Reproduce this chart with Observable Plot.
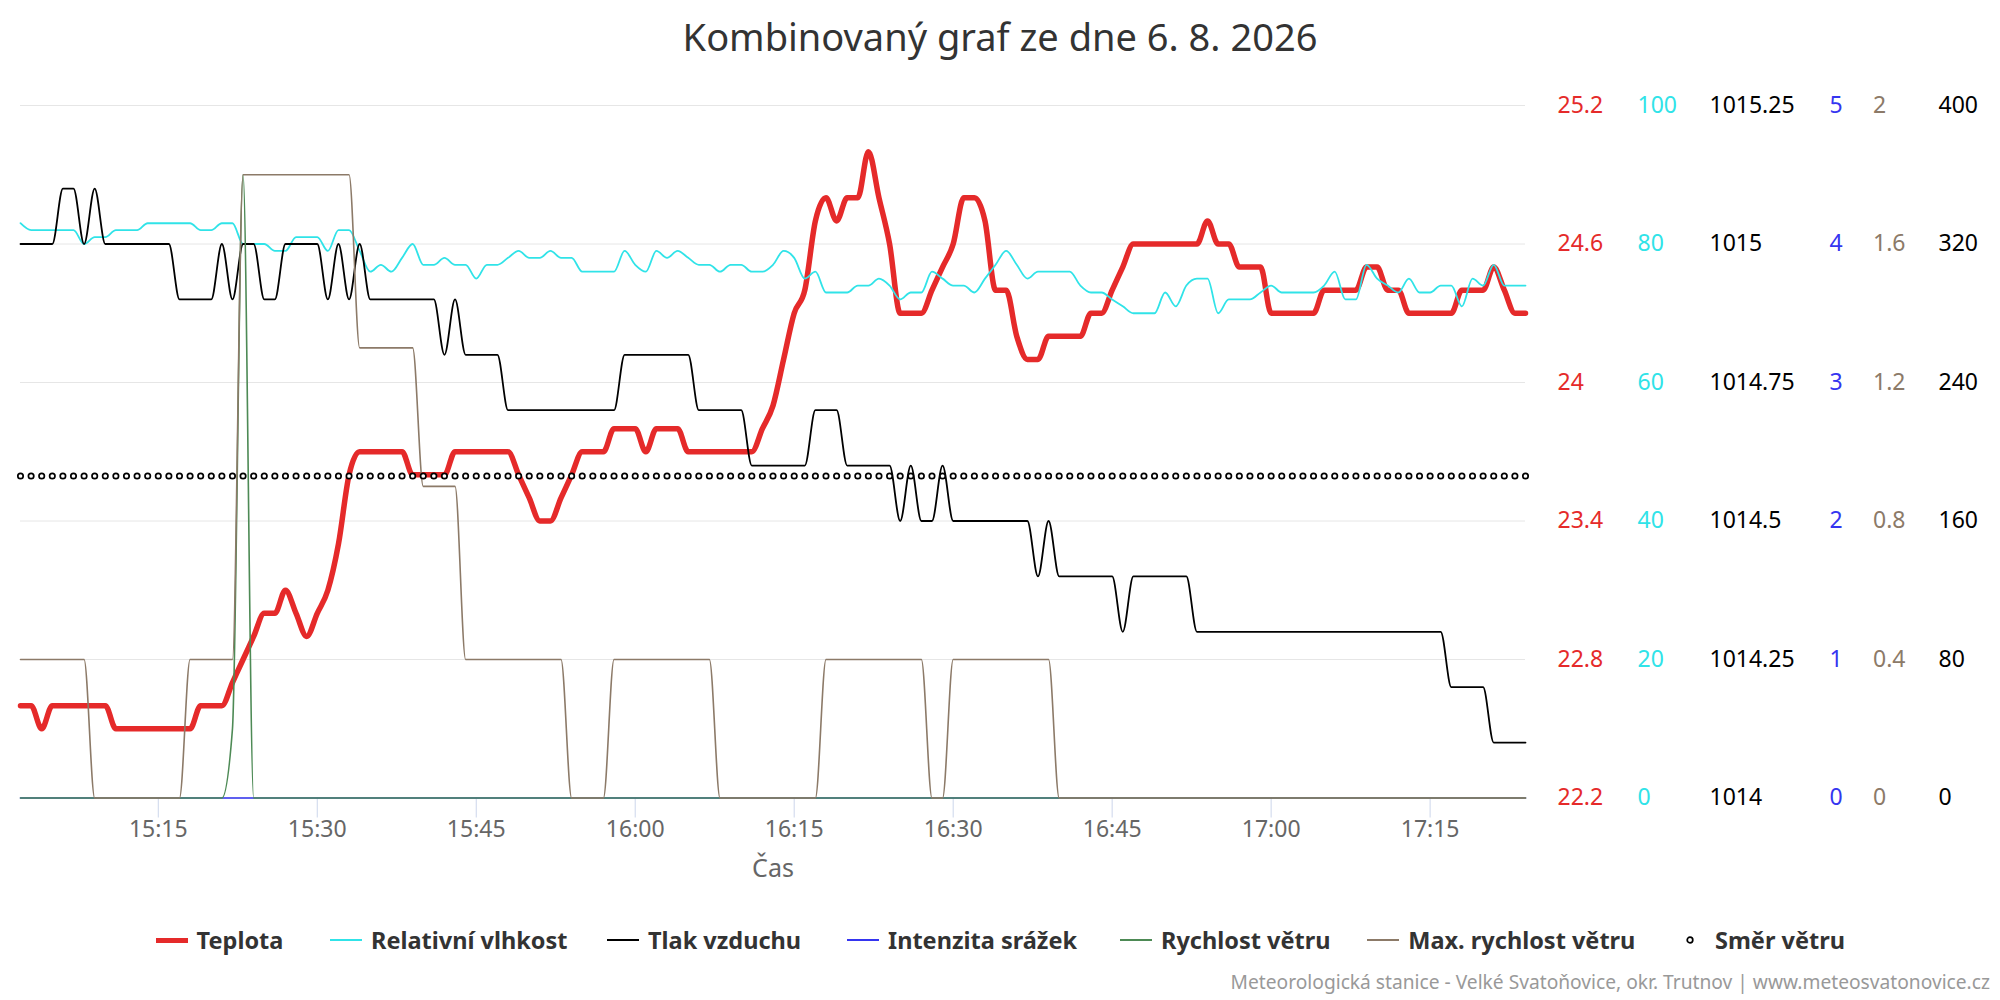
<!DOCTYPE html>
<html><head><meta charset="utf-8">
<script src="https://cdn.jsdelivr.net/npm/d3@7"></script>
<script src="https://cdn.jsdelivr.net/npm/@observablehq/plot@0.6"></script>
<style>
body{margin:0;background:#fff;font-family:"Noto Sans",sans-serif;}
#wrap{width:2000px;height:1000px;position:relative;overflow:hidden;background:#fff}
#title{height:72px;line-height:72px;text-align:center;font-size:38px;color:#333}
#chart svg{display:block}
#legend{position:relative;height:62px}
.item{position:absolute;top:38px;transform:translateY(-50%);display:flex;align-items:center;white-space:nowrap;font-weight:bold;font-size:23.5px;color:#333}
.sym{width:32px;margin-right:9px;display:flex;align-items:center;justify-content:center;height:20px}
#footer{height:36px;line-height:36px;text-align:right;padding-right:10px;font-size:19.2px;color:#999}
</style></head>
<body><div id="wrap">
<div id="title">Kombinovaný graf ze dne 6. 8. 2026</div>
<div id="chart"></div>
<div id="legend"></div>
<div id="footer">Meteorologická stanice - Velké Svatoňovice, okr. Trutnov | www.meteosvatonovice.cz</div>
</div>
<script>
// ---- data (one reading per minute from 15:02) ----
const startTime = "15:02";
const temperature = [
22.6,22.6,22.5,22.6,22.6,22.6,22.6,22.6,22.6,22.5,
22.5,22.5,22.5,22.5,22.5,22.5,22.5,22.6,22.6,22.6,
22.7,22.8,22.9,23.0,23.0,23.1,23.0,22.9,23.0,23.1,
23.3,23.6,23.7,23.7,23.7,23.7,23.7,23.6,23.6,23.6,
23.6,23.7,23.7,23.7,23.7,23.7,23.7,23.6,23.5,23.4,
23.4,23.5,23.6,23.7,23.7,23.7,23.8,23.8,23.8,23.7,
23.8,23.8,23.8,23.7,23.7,23.7,23.7,23.7,23.7,23.7,
23.8,23.9,24.1,24.3,24.4,24.7,24.8,24.7,24.8,24.8,
25.0,24.8,24.6,24.3,24.3,24.3,24.4,24.5,24.6,24.8,
24.8,24.7,24.4,24.4,24.2,24.1,24.1,24.2,24.2,24.2,
24.2,24.3,24.3,24.4,24.5,24.6,24.6,24.6,24.6,24.6,
24.6,24.6,24.7,24.6,24.6,24.5,24.5,24.5,24.3,24.3,
24.3,24.3,24.3,24.4,24.4,24.4,24.4,24.5,24.5,24.4,
24.4,24.3,24.3,24.3,24.3,24.3,24.4,24.4,24.4,24.5,
24.4,24.3,24.3];
const humidity = [
83,82,82,82,82,82,80,81,81,82,
82,82,83,83,83,83,83,82,82,83,
83,80,80,80,79,79,81,81,81,79,
82,82,79,76,77,76,78,80,77,77,
78,77,77,75,77,77,78,79,78,78,
79,78,78,76,76,76,76,79,77,76,
79,78,79,78,77,77,76,77,77,76,
76,77,79,78,75,76,73,73,73,74,
74,75,74,72,73,73,76,75,74,74,
73,75,77,79,77,75,76,76,76,76,
74,73,73,72,71,70,70,70,73,71,
74,75,75,70,72,72,72,73,74,73,
73,73,73,74,76,72,72,77,75,74,
73,75,73,73,74,74,71,75,74,77,
74,74,74];
const pressure = [
1015.0,1015.0,1015.0,1015.0,1015.1,1015.1,1015.0,1015.1,1015.0,1015.0,
1015.0,1015.0,1015.0,1015.0,1015.0,1014.9,1014.9,1014.9,1014.9,1015.0,
1014.9,1015.0,1015.0,1014.9,1014.9,1015.0,1015.0,1015.0,1015.0,1014.9,
1015.0,1014.9,1015.0,1014.9,1014.9,1014.9,1014.9,1014.9,1014.9,1014.9,
1014.8,1014.9,1014.8,1014.8,1014.8,1014.8,1014.7,1014.7,1014.7,1014.7,
1014.7,1014.7,1014.7,1014.7,1014.7,1014.7,1014.7,1014.8,1014.8,1014.8,
1014.8,1014.8,1014.8,1014.8,1014.7,1014.7,1014.7,1014.7,1014.7,1014.6,
1014.6,1014.6,1014.6,1014.6,1014.6,1014.7,1014.7,1014.7,1014.6,1014.6,
1014.6,1014.6,1014.6,1014.5,1014.6,1014.5,1014.5,1014.6,1014.5,1014.5,
1014.5,1014.5,1014.5,1014.5,1014.5,1014.5,1014.4,1014.5,1014.4,1014.4,
1014.4,1014.4,1014.4,1014.4,1014.3,1014.4,1014.4,1014.4,1014.4,1014.4,
1014.4,1014.3,1014.3,1014.3,1014.3,1014.3,1014.3,1014.3,1014.3,1014.3,
1014.3,1014.3,1014.3,1014.3,1014.3,1014.3,1014.3,1014.3,1014.3,1014.3,
1014.3,1014.3,1014.3,1014.3,1014.3,1014.2,1014.2,1014.2,1014.2,1014.1,
1014.1,1014.1,1014.1];
const rainIntensity = [
0,0,0,0,0,0,0,0,0,0, 0,0,0,0,0,0,0,0,0,0,
0,0,0,0,0,0,0,0,0,0, 0,0,0,0,0,0,0,0,0,0,
0,0,0,0,0,0,0,0,0,0, 0,0,0,0,0,0,0,0,0,0,
0,0,0,0,0,0,0,0,0,0, 0,0,0,0,0,0,0,0,0,0,
0,0,0,0,0,0,0,0,0,0, 0,0,0,0,0,0,0,0,0,0,
0,0,0,0,0,0,0,0,0,0, 0,0,0,0,0,0,0,0,0,0,
0,0,0,0,0,0,0,0,0,0, 0,0,0,0,0,0,0,0,0,0,
0,0,0,0,0,0,0,0,0,0, 0,0,0];
const windSpeed = [
0,0,0,0,0,0,0,0,0,0, 0,0,0,0,0,0,0,0,0,0,
0.2,1.8,0,0,0,0,0,0,0,0, 0,0,0,0,0,0,0,0,0,0,
0,0,0,0,0,0,0,0,0,0, 0,0,0,0,0,0,0,0,0,0,
0,0,0,0,0,0,0,0,0,0, 0,0,0,0,0,0,0,0,0,0,
0,0,0,0,0,0,0,0,0,0, 0,0,0,0,0,0,0,0,0,0,
0,0,0,0,0,0,0,0,0,0, 0,0,0,0,0,0,0,0,0,0,
0,0,0,0,0,0,0,0,0,0, 0,0,0,0,0,0,0,0,0,0,
0,0,0,0,0,0,0,0,0,0, 0,0,0];
const windGust = [
0.4,0.4,0.4,0.4,0.4,0.4,0.4,0,0,0,
0,0,0,0,0,0,0.4,0.4,0.4,0.4,
0.4,1.8,1.8,1.8,1.8,1.8,1.8,1.8,1.8,1.8,
1.8,1.8,1.3,1.3,1.3,1.3,1.3,1.3,0.9,0.9,
0.9,0.9,0.4,0.4,0.4,0.4,0.4,0.4,0.4,0.4,
0.4,0.4,0,0,0,0,0.4,0.4,0.4,0.4,
0.4,0.4,0.4,0.4,0.4,0.4,0,0,0,0,
0,0,0,0,0,0,0.4,0.4,0.4,0.4,
0.4,0.4,0.4,0.4,0.4,0.4,0,0,0.4,0.4,
0.4,0.4,0.4,0.4,0.4,0.4,0.4,0.4,0,0,
0,0,0,0,0,0,0,0,0,0, 0,0,0,0,0,0,0,0,0,0,
0,0,0,0,0,0,0,0,0,0, 0,0,0,0,0,0,0,0,0,0,
0,0,0,0,0,0,0,0,0,0, 0,0,0];
const windDirection = [
186,186,186,186,186,186,186,186,186,186, 186,186,186,186,186,186,186,186,186,186,
186,186,186,186,186,186,186,186,186,186, 186,186,186,186,186,186,186,186,186,186,
186,186,186,186,186,186,186,186,186,186, 186,186,186,186,186,186,186,186,186,186,
186,186,186,186,186,186,186,186,186,186, 186,186,186,186,186,186,186,186,186,186,
186,186,186,186,186,186,186,186,186,186, 186,186,186,186,186,186,186,186,186,186,
186,186,186,186,186,186,186,186,186,186, 186,186,186,186,186,186,186,186,186,186,
186,186,186,186,186,186,186,186,186,186, 186,186,186,186,186,186,186,186,186,186,
186,186,186,186,186,186,186,186,186,186, 186,186,186];

// ---- axes ----
const xTickLabels = ["15:15","15:30","15:45","16:00","16:15","16:30","16:45","17:00","17:15"];
const tempTicks = [22.2, 22.8, 23.4, 24.0, 24.6, 25.2];
const tempLabels = ["22.2","22.8","23.4","24","24.6","25.2"];
const humLabels = ["0","20","40","60","80","100"];
const presLabels = ["1014","1014.25","1014.5","1014.75","1015","1015.25"];
const rainLabels = ["0","1","2","3","4","5"];
const windLabels = ["0","0.4","0.8","1.2","1.6","2"];
const dirLabels = ["0","80","160","240","320","400"];
const tempDomain = [22.2, 25.2];
const humDomain = [0, 100];
const presDomain = [1014, 1015.25];
const rainDomain = [0, 5];
const windDomain = [0, 2];
const dirDomain = [0, 400];

const seriesNames = ["Teplota","Relativní vlhkost","Tlak vzduchu","Intenzita srážek","Rychlost větru","Max. rychlost větru","Směr větru"];
const colors = {temp:"#e52a2a", hum:"#30e3e8", pres:"#000000", rain:"#3535f0", wind:"#4d8a55", gust:"#8c7a68", dir:"#000000"};

// ---- build ----
const toMs = s => Date.UTC(2026, 7, 6, +s.slice(0,2), +s.slice(3,5));
const t0 = toMs(startTime);
const rows = temperature.map((v, i) => ({
  t: new Date(t0 + i * 60000), temp: v, hum: humidity[i], pres: pressure[i],
  rain: rainIntensity[i], wind: windSpeed[i], gust: windGust[i], dir: windDirection[i]
}));
const xTicks = xTickLabels.map(s => new Date(toMs(s)));
const map = dom => d3.scaleLinear(dom, tempDomain);
const hY = map(humDomain), pY = map(presDomain), rY = map(rainDomain), wY = map(windDomain), dY = map(dirDomain);

const rightAxes = [
  {labels: tempLabels, color: colors.temp, pad: 32},
  {labels: humLabels, color: colors.hum, pad: 112},
  {labels: presLabels, color: "#000", pad: 184},
  {labels: rainLabels, color: colors.rain, pad: 304},
  {labels: windLabels, color: colors.gust, pad: 347.5},
  {labels: dirLabels, color: "#000", pad: 413}
];
const curve = "monotone-x";

const chart = Plot.plot({
  width: 2000, height: 830,
  marginTop: 33, marginBottom: 104.5, marginLeft: 20, marginRight: 475,
  style: {fontFamily: '"Noto Sans", sans-serif', fontSize: "23px", background: "white", overflow: "visible"},
  x: {type: "utc", domain: [rows[0].t, rows[rows.length - 1].t]},
  y: {domain: tempDomain},
  marks: [
    Plot.gridY({ticks: tempTicks, stroke: "#e6e6e6", strokeOpacity: 1}),
    Plot.ruleY([tempDomain[0]], {stroke: "#ccd6eb"}),
    Plot.axisX({ticks: xTicks, tickFormat: "%H:%M", tickSize: 20, tickPadding: 3, stroke: "#ccd6eb", fill: "#666", fontSize: 23, label: null}),
    Plot.text(["Čas"], {text: d => d, frameAnchor: "bottom", dy: 71, lineAnchor: "middle", fill: "#666", fontSize: 25}),
    ...rightAxes.map(a => Plot.axisY({
      anchor: "right", ticks: tempTicks, tickSize: 0, tickPadding: a.pad, textAnchor: "start",
      tickFormat: d => a.labels[tempTicks.indexOf(d)], fill: a.color, fontSize: 23, label: null
    })),
    Plot.line(rows, {x: "t", y: "temp", stroke: colors.temp, strokeWidth: 5.5, curve}),
    Plot.line(rows, {x: "t", y: d => hY(d.hum), stroke: colors.hum, strokeWidth: 1.8, curve}),
    Plot.line(rows, {x: "t", y: d => pY(d.pres), stroke: colors.pres, strokeWidth: 1.8, curve}),
    Plot.line(rows, {x: "t", y: d => rY(d.rain), stroke: colors.rain, strokeWidth: 1.6, curve}),
    Plot.line(rows, {x: "t", y: d => wY(d.wind), stroke: colors.wind, strokeWidth: 1.6, curve}),
    Plot.line(rows, {x: "t", y: d => wY(d.gust), stroke: colors.gust, strokeWidth: 1.6, curve}),
    Plot.dot(rows, {x: "t", y: d => dY(d.dir), r: 2.7, stroke: colors.dir, strokeWidth: 1.7, fill: "white"})
  ]
});
document.getElementById("chart").appendChild(chart);

// ---- legend ----
const legendKeys = ["temp","hum","pres","rain","wind","gust","dir"];
const legendThickness = [5, 2, 2, 2, 2, 2, 0];
const legendLeft = [155.6, 330, 607, 847, 1120, 1367.3, 1674];
const legend = document.getElementById("legend");
seriesNames.forEach((name, i) => {
  const item = document.createElement("div");
  item.className = "item";
  item.style.left = legendLeft[i] + "px";
  const sym = document.createElement("div");
  sym.className = "sym";
  if (legendKeys[i] === "dir") {
    sym.innerHTML = '<svg width="10" height="10"><circle cx="5" cy="5" r="2.8" fill="white" stroke="black" stroke-width="1.7"/></svg>';
  } else {
    const bar = document.createElement("div");
    bar.style.width = "32px";
    bar.style.height = legendThickness[i] + "px";
    bar.style.background = colors[legendKeys[i]];
    sym.appendChild(bar);
  }
  const label = document.createElement("span");
  label.textContent = name;
  item.appendChild(sym);
  item.appendChild(label);
  legend.appendChild(item);
});
</script>
</body></html>
